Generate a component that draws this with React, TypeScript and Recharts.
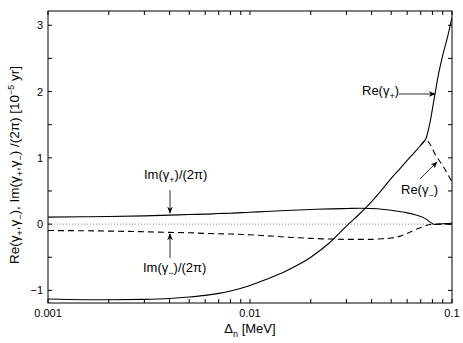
import React from 'react';
import { LineChart, Line, XAxis, YAxis, ReferenceLine } from 'recharts';

// energy splitting, MeV (log axis)
const deltaN = [
  0.001, 0.0015, 0.002, 0.003, 0.004, 0.005, 0.006, 0.007, 0.008, 0.01,
  0.012, 0.015, 0.02, 0.025, 0.03, 0.035, 0.04, 0.045, 0.05, 0.055,
  0.06, 0.065, 0.07, 0.0745, 0.078, 0.082, 0.086, 0.09, 0.095, 0.1,
];

// units of 1e-5 / yr
const reGammaPlus = [
  -1.13, -1.14, -1.14, -1.135, -1.122, -1.1, -1.075, -1.045, -1.01, -0.925,
  -0.835, -0.71, -0.5, -0.27, -0.03, 0.16, 0.34, 0.52, 0.69, 0.83,
  0.96, 1.08, 1.19, 1.3, 1.55, 1.93, 2.28, 2.55, 2.82, 3.12,
];
const reGammaMinus = [
  null, null, null, null, null, null, null, null, null, null,
  null, null, null, null, null, null, null, null, null, null,
  null, null, 1.19, 1.27, 1.2, 1.07, 0.97, 0.88, 0.76, 0.64,
];
const imGammaPlus = [
  0.105, 0.11, 0.115, 0.125, 0.135, 0.145, 0.15, 0.16, 0.165, 0.18,
  0.19, 0.205, 0.22, 0.23, 0.235, 0.24, 0.235, 0.225, 0.21, 0.19,
  0.17, 0.145, 0.115, 0.075, 0.03, -0.005, 0, 0.005, 0.01, 0.015,
];
const imGammaMinus = [
  -0.097, -0.1, -0.105, -0.115, -0.125, -0.13, -0.14, -0.145, -0.15, -0.16,
  -0.175, -0.195, -0.215, -0.225, -0.23, -0.23, -0.23, -0.22, -0.21, -0.185,
  -0.14, -0.09, -0.05, -0.02, -0.005, 0, 0, 0, 0, 0,
];

const xTicks = [
  0.001, 0.002, 0.003, 0.004, 0.005, 0.006, 0.007, 0.008, 0.009,
  0.01, 0.02, 0.03, 0.04, 0.05, 0.06, 0.07, 0.08, 0.09, 0.1,
];
const xLabels = [0.001, 0.01, 0.1];
const yTicks = [-1, -0.5, 0, 0.5, 1, 1.5, 2, 2.5, 3];

const data = deltaN.map((x, i) => ({
  x,
  rePlus: reGammaPlus[i],
  reMinus: reGammaMinus[i],
  imPlus: imGammaPlus[i],
  imMinus: imGammaMinus[i],
}));

const W = 463;
const H = 343;
const LEFT = 48;
const TOP = 11;
const RIGHT = 452;
const BOTTOM = 303;
const FONT = '"Liberation Sans", Arial, Helvetica, sans-serif';

function XTick(props: any) {
  const { x, payload } = props;
  const v = payload.value;
  return (
    <g>
      <line x1={x} x2={x} y1={BOTTOM} y2={BOTTOM - 4} stroke="#000" />
      <line x1={x} x2={x} y1={TOP} y2={TOP + 4} stroke="#000" />
      {xLabels.includes(v) && (
        <text x={x} y={BOTTOM + 14} textAnchor="middle" fontSize={11} fill="#000" fontFamily={FONT}>
          {String(v)}
        </text>
      )}
    </g>
  );
}

function YTick(props: any) {
  const { y, payload } = props;
  const v = payload.value;
  const label = Number.isInteger(v) ? (v < 0 ? '\u2212' + Math.abs(v) : String(v)) : '';
  return (
    <g>
      <line x1={LEFT} x2={LEFT + 4} y1={y} y2={y} stroke="#000" />
      <line x1={RIGHT} x2={RIGHT - 4} y1={y} y2={y} stroke="#000" />
      {label && (
        <text x={LEFT - 5} y={y + 4} textAnchor="end" fontSize={11} fill="#000" fontFamily={FONT}>
          {label}
        </text>
      )}
    </g>
  );
}

function Overlay() {
  return (
    <svg width={W} height={H} style={{ position: 'absolute', left: 0, top: 0, pointerEvents: 'none' }}>
      <defs>
        <marker id="head" viewBox="0 0 10 10" refX="9" refY="5" markerWidth="7" markerHeight="7" orient="auto">
          <path d="M0,1 L10,5 L0,9 L3,5 Z" fill="#000" />
        </marker>
      </defs>
      <rect x={LEFT} y={TOP} width={RIGHT - LEFT} height={BOTTOM - TOP} fill="none" stroke="#000" strokeWidth={1} />
      <g fontFamily={FONT} fontSize={13} fill="#000">
        <text x={362} y={95}>
          Re(γ<tspan dy={4} fontSize={9}>+</tspan><tspan dy={-4}>)</tspan>
        </text>
        <line x1={399} y1={94} x2={435} y2={94} stroke="#333" strokeWidth={1} markerEnd="url(#head)" />

        <text x={401} y={194}>
          Re(γ<tspan dy={4} fontSize={9}>−</tspan><tspan dy={-4}>)</tspan>
        </text>
        <line x1={420} y1={179} x2={437} y2={162} stroke="#333" strokeWidth={1} markerEnd="url(#head)" />

        <text x={144} y={179}>
          Im(γ<tspan dy={4} fontSize={9}>+</tspan><tspan dy={-4}>)/(2π)</tspan>
        </text>
        <line x1={170} y1={190} x2={170} y2={213} stroke="#333" strokeWidth={1} markerEnd="url(#head)" />

        <text x={143} y={272}>
          Im(γ<tspan dy={4} fontSize={9}>−</tspan><tspan dy={-4}>)/(2π)</tspan>
        </text>
        <line x1={170} y1={258} x2={170} y2={234} stroke="#333" strokeWidth={1} markerEnd="url(#head)" />

        <text x={250} y={333} textAnchor="middle">
          Δ<tspan dy={4} fontSize={9}>n</tspan><tspan dy={-4}> [MeV]</tspan>
        </text>

        <text transform="translate(19,165) rotate(-90)" textAnchor="middle" fontSize={13.5}>
          Re(γ<tspan dy={4} fontSize={9}>+</tspan><tspan dy={-4}>,γ</tspan>
          <tspan dy={4} fontSize={9}>−</tspan><tspan dy={-4}>), Im(γ</tspan>
          <tspan dy={4} fontSize={9}>+</tspan><tspan dy={-4}>,γ</tspan>
          <tspan dy={4} fontSize={9}>−</tspan><tspan dy={-4}>) /(2π) [10</tspan>
          <tspan dy={-5} fontSize={9}>−5</tspan><tspan dy={5}> yr]</tspan>
        </text>
      </g>
    </svg>
  );
}

export default function App() {
  return (
    <div style={{ position: 'absolute', left: 0, top: 0, width: W, height: H, background: '#fff' }}>
      <LineChart width={W} height={H} data={data} margin={{ top: TOP, right: W - RIGHT, bottom: 0, left: 0 }}>
        <XAxis
          dataKey="x"
          type="number"
          scale="log"
          domain={[0.001, 0.1]}
          ticks={xTicks}
          allowDataOverflow
          axisLine={false}
          tickLine={false}
          tickSize={0}
          tickMargin={0}
          height={H - BOTTOM}
          tick={<XTick />}
          interval={0}
        />
        <YAxis
          type="number"
          domain={[-1.19, 3.215]}
          ticks={yTicks}
          allowDataOverflow
          axisLine={false}
          tickLine={false}
          tickSize={0}
          tickMargin={0}
          width={LEFT}
          tick={<YTick />}
          interval={0}
        />
        <ReferenceLine y={0} stroke="#888" strokeDasharray="1 2" strokeWidth={1} />
        <Line type="monotone" dataKey="imMinus" stroke="#000" strokeWidth={1.1} strokeDasharray="6 4" dot={false} isAnimationActive={false} />
        <Line type="monotone" dataKey="reMinus" stroke="#000" strokeWidth={1.1} strokeDasharray="6 4" dot={false} isAnimationActive={false} connectNulls={false} />
        <Line type="monotone" dataKey="imPlus" stroke="#000" strokeWidth={1.1} dot={false} isAnimationActive={false} />
        <Line type="monotone" dataKey="rePlus" stroke="#000" strokeWidth={1.1} dot={false} isAnimationActive={false} />
      </LineChart>
      <Overlay />
    </div>
  );
}
